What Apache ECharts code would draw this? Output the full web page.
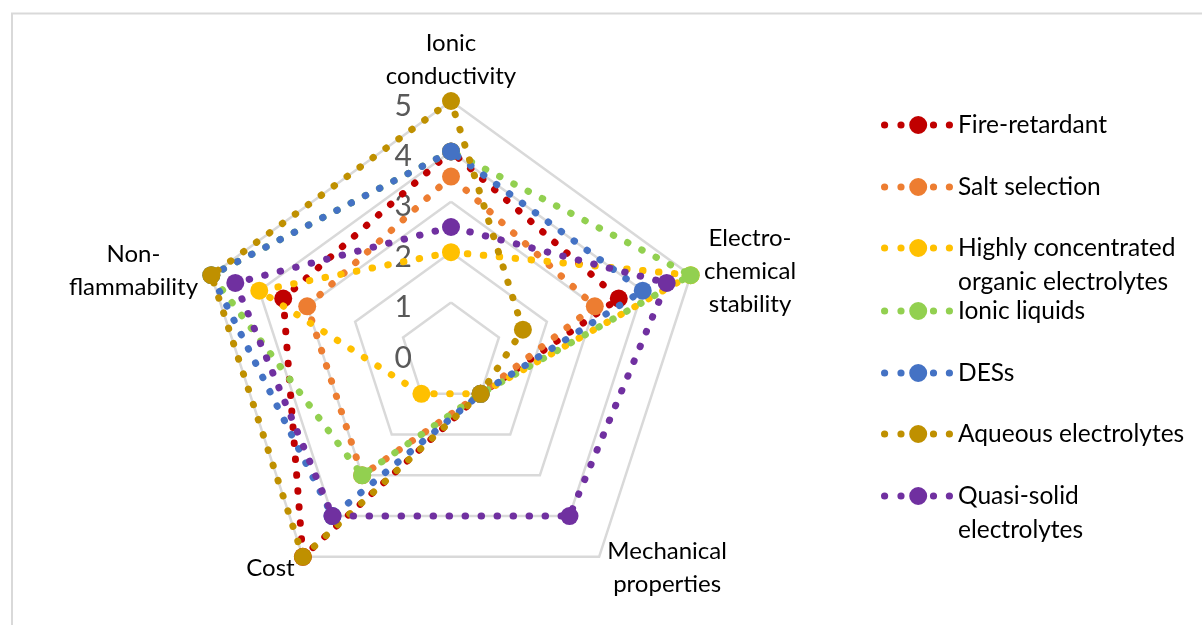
<!DOCTYPE html>
<html>
<head>
<meta charset="utf-8">
<script src="https://cdn.jsdelivr.net/npm/echarts@6/dist/echarts.min.js"></script>
<style>
  html, body { margin: 0; padding: 0; background: #fff; }
  #chart { width: 1202px; height: 625px; }
</style>
</head>
<body>
<div id="chart"></div>
<script>
// Criteria, listed clockwise from the top
const criteria = [
  'Ionic\nconductivity',
  'Electro-\nchemical\nstability',
  'Mechanical\nproperties',
  'Cost',
  'Non-\nflammability'
];
const scaleTicks = [0, 1, 2, 3, 4, 5];

// Scores per electrolyte strategy, same order as criteria
const fireRetardant      = [4,   3.5, 1, 5, 3.5];
const saltSelection      = [3.5, 3,   1, 3, 3];
const highlyConcentrated = [2,   5,   1, 1, 4];
const ionicLiquids       = [4,   5,   1, 3, 5];
const desS               = [4,   4,   1, 4, 5];
const aqueous            = [5,   1.5, 1, 5, 5];
const quasiSolid         = [2.5, 4.5, 4, 4, 4.5];

const seriesNames = [
  'Fire-retardant',
  'Salt selection',
  'Highly concentrated\norganic electrolytes',
  'Ionic liquids',
  'DESs',
  'Aqueous electrolytes',
  'Quasi-solid\nelectrolytes'
];
const seriesValues = [fireRetardant, saltSelection, highlyConcentrated, ionicLiquids, desS, aqueous, quasiSolid];
const seriesColors = ['#C00000', '#ED7D31', '#FFC000', '#92D050', '#4472C4', '#BF9000', '#7030A0'];

const FONT = 'Lato';
const CENTER = [451, 353];
const RADIUS = 252;

// ECharts lays radar indicators out counterclockwise, so keep the top one first and reverse the rest
const order = [0, 4, 3, 2, 1];
const indicator = order.map(i => ({ name: criteria[i], min: 0, max: 5 }));

// Legend glyph: dotted line with a large marker
function circ(cx, cy, r) {
  return 'M' + (cx - r) + ',' + cy + 'a' + r + ',' + r + ' 0 1,0 ' + (2 * r) + ',0' +
         'a' + r + ',' + r + ' 0 1,0 ' + (-2 * r) + ',0Z';
}
const legendIcon = 'path://' + [
  circ(3.6, 9, 3.6), circ(20, 9, 3.6), circ(37.2, 9, 9), circ(52.5, 9, 3.6), circ(68.4, 9, 3.6)
].join('');

const legendCenters = [125, 187, 248, 311, 373, 434, 496];

const legends = seriesNames.map((name, k) => {
  const twoLines = name.indexOf('\n') >= 0;
  return {
    orient: 'vertical',
    left: 881,
    top: legendCenters[k] - (twoLines ? 51 : 17),
    padding: 0,
    itemWidth: 72,
    itemHeight: 18,
    itemGap: 0,
    selectedMode: false,
    data: [{ name: name, icon: legendIcon }],
    // wrapped names hang below the glyph: a blank leading line keeps the first line level with it
    formatter: twoLines ? (n => ' \n' + n) : (n => n),
    textStyle: {
      fontFamily: FONT,
      fontSize: 24.5,
      color: '#000',
      lineHeight: 34
    }
  };
});

const series = seriesNames.map((name, k) => ({
  type: 'radar',
  name: name,
  z: 2 + k,
  symbol: 'circle',
  symbolSize: 18,
  itemStyle: { color: seriesColors[k] },
  lineStyle: {
    color: seriesColors[k],
    width: 7,
    type: [0.5, 15.5],
    cap: 'round'
  },
  data: [{ name: name, value: order.map(i => seriesValues[k][i]) }]
}));

const nameText = { fontSize: 24, fontFamily: FONT, color: '#000', align: 'center' };

const chart = echarts.init(document.getElementById('chart'), null, { renderer: 'canvas' });
chart.setOption({
  animation: false,
  backgroundColor: '#fff',
  graphic: [{
    type: 'rect',
    shape: { x: 12, y: 13.5, width: 1400, height: 800 },
    style: { fill: 'none', stroke: '#d9d9d9', lineWidth: 2 },
    silent: true
  }],
  legend: legends,
  radar: {
    center: CENTER,
    radius: RADIUS,
    startAngle: 90,
    shape: 'polygon',
    splitNumber: 5,
    indicator: indicator,
    nameGap: 14,
    axisName: {
      color: '#000',
      fontFamily: FONT,
      fontSize: 24,
      formatter: function (name) {
        const lines = name.split('\n');
        if (name.indexOf('Ionic') === 0) {
          // top label sits a little closer to its spoke
          return '{t1|' + lines[0] + '}\n{t2|' + lines[1] + '}';
        }
        return lines.map(s => '{c|' + s + '}').join('\n');
      },
      rich: {
        c: Object.assign({ lineHeight: 33 }, nameText),
        t1: Object.assign({ lineHeight: 45 }, nameText),
        t2: Object.assign({ lineHeight: 21 }, nameText)
      }
    },
    axisLine: { show: false },
    axisTick: { show: false },
    axisLabel: { show: false },
    splitArea: { show: false },
    splitLine: { lineStyle: { color: '#d9d9d9', width: 2.5 } }
  },
  // Value scale printed along the top spoke (labels sit slightly below their rings)
  grid: { left: CENTER[0], top: CENTER[1] - RADIUS + 5, width: 1, height: RADIUS },
  xAxis: { type: 'value', show: false },
  yAxis: {
    type: 'value',
    min: scaleTicks[0],
    max: scaleTicks[scaleTicks.length - 1],
    interval: 1,
    axisLine: { show: false },
    axisTick: { show: false },
    splitLine: { show: false },
    axisLabel: {
      margin: 39,
      fontFamily: FONT,
      fontSize: 30,
      color: '#595959'
    }
  },
  series: series
});
</script>
</body>
</html>
